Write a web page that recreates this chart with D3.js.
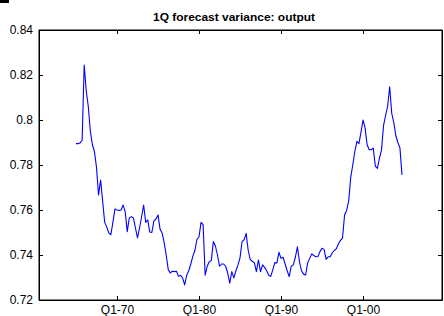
<!DOCTYPE html>
<html>
<head>
<meta charset="utf-8">
<script src="https://cdn.jsdelivr.net/npm/d3@7"></script>
<style>
  html, body { margin: 0; padding: 0; background: #fff; }
  svg { display: block; }
  text { font-family: "Liberation Sans", Arial, sans-serif; fill: #000; }
</style>
</head>
<body>
<div id="chart"></div>
<script>
// ---- data (quarterly, starting 1965 Q1) ----
const chartTitle = "1Q forecast variance: output";
const startYear = 1965;
const variance = [
  0.7895, 0.7895, 0.7898, 0.7910, 0.8244, 0.8130, 0.8060, 0.7950, 0.7890, 0.7860,
  0.7790, 0.7667, 0.7733, 0.7640, 0.7545, 0.7525, 0.7498, 0.7490, 0.7545, 0.7605,
  0.7600, 0.7598, 0.7600, 0.7622, 0.7593, 0.7504, 0.7565, 0.7570, 0.7565, 0.7520,
  0.7476, 0.7520, 0.7570, 0.7622, 0.7545, 0.7556, 0.7502, 0.7500, 0.7552, 0.7560,
  0.7578, 0.7515, 0.7498, 0.7455, 0.7400, 0.7335, 0.7320, 0.7328, 0.7326, 0.7328,
  0.7305, 0.7310, 0.7298, 0.7267, 0.7310, 0.7330, 0.7360, 0.7395, 0.7420, 0.7470,
  0.7480, 0.7545, 0.7535, 0.7310, 0.7350, 0.7370, 0.7375, 0.7460, 0.7440, 0.7400,
  0.7350, 0.7360, 0.7360, 0.7350, 0.7320, 0.7275, 0.7326, 0.7298, 0.7330, 0.7355,
  0.7387, 0.7460, 0.7467, 0.7496, 0.7420, 0.7380, 0.7372, 0.7365, 0.7326, 0.7378,
  0.7326, 0.7356, 0.7345, 0.7330, 0.7310, 0.7305, 0.7335, 0.7366, 0.7365, 0.7412,
  0.7385, 0.7390, 0.7360, 0.7330, 0.7304, 0.7350, 0.7356, 0.7390, 0.7436, 0.7370,
  0.7330, 0.7315, 0.7311, 0.7365, 0.7385, 0.7405, 0.7398, 0.7392, 0.7393, 0.7415,
  0.7430, 0.7425, 0.7381, 0.7392, 0.7392, 0.7410, 0.7420, 0.7428, 0.7450, 0.7465,
  0.7475, 0.7578, 0.7598, 0.7640, 0.7745, 0.7800, 0.7860, 0.7905, 0.7895, 0.7945,
  0.8000, 0.7965, 0.7890, 0.7868, 0.7868, 0.7875, 0.7795, 0.7785, 0.7830, 0.7865,
  0.7975, 0.8020, 0.8060, 0.8148, 0.8030, 0.7988, 0.7930, 0.7900, 0.7876, 0.7756
];
const xTickYears = [1970, 1980, 1990, 2000];
const xTickLabels = ["Q1-70", "Q1-80", "Q1-90", "Q1-00"];
const yTicks = [0.72, 0.74, 0.76, 0.78, 0.80, 0.82, 0.84];
const yTickLabels = ["0.72", "0.74", "0.76", "0.78", "0.8", "0.82", "0.84"];

// ---- layout ----
const W = 444, H = 316;
const plot = { left: 39, right: 442, top: 30, bottom: 300 };
const tickLen = 4;

const svg = d3.select("#chart").append("svg")
  .attr("width", W).attr("height", H);

const x = d3.scaleLinear().domain([1960.49, 2009.63]).range([plot.left, plot.right]);
const y = d3.scaleLinear().domain([0.72, 0.84]).range([plot.bottom, plot.top]);

// small mark at top-left corner (remnant in reference)
svg.append("rect").attr("x", 0).attr("y", 0).attr("width", 9).attr("height", 3).attr("fill", "#000");

// title
svg.append("text")
  .attr("x", 234).attr("y", 21)
  .attr("text-anchor", "middle")
  .attr("font-size", "11px").attr("font-weight", "bold")
  .attr("textLength", 162).attr("lengthAdjust", "spacingAndGlyphs")
  .text(chartTitle);

// line
const data = variance.map((v, i) => ({ t: startYear + i / 4, v }));
const line = d3.line().x(d => x(d.t)).y(d => y(d.v));
svg.append("path")
  .datum(data)
  .attr("d", line)
  .attr("fill", "none")
  .attr("stroke", "#0000ff")
  .attr("stroke-width", 1.1)
  .attr("stroke-linejoin", "round");

// axes (inward ticks, MATLAB style)
const fmtY = d => yTickLabels[yTicks.indexOf(d)];
const fmtX = d => xTickLabels[xTickYears.indexOf(d)];

const gLeft = svg.append("g").attr("transform", `translate(${plot.left},0)`)
  .call(d3.axisLeft(y).tickValues(yTicks).tickFormat(fmtY).tickSizeInner(-tickLen).tickSizeOuter(0).tickPadding(6));
const gRight = svg.append("g").attr("transform", `translate(${plot.right},0)`)
  .call(d3.axisRight(y).tickValues(yTicks).tickFormat("").tickSizeInner(-tickLen).tickSizeOuter(0));
const gBottom = svg.append("g").attr("transform", `translate(0,${plot.bottom})`)
  .call(d3.axisBottom(x).tickValues(xTickYears).tickFormat(fmtX).tickSizeInner(-tickLen).tickSizeOuter(0).tickPadding(5));
const gTop = svg.append("g").attr("transform", `translate(0,${plot.top})`)
  .call(d3.axisTop(x).tickValues(xTickYears).tickFormat("").tickSizeInner(-tickLen).tickSizeOuter(0));

[gLeft, gRight, gBottom, gTop].forEach(g => {
  g.selectAll("path.domain").attr("stroke", "#000").attr("stroke-width", 1);
  g.selectAll(".tick line").attr("stroke", "#000");
  g.selectAll("text").attr("font-family", "'Liberation Sans', Arial, sans-serif")
    .attr("font-size", "12px").attr("fill", "#000");
});

// box frame
svg.append("rect")
  .attr("x", plot.left).attr("y", plot.top)
  .attr("width", plot.right - plot.left).attr("height", plot.bottom - plot.top)
  .attr("fill", "none").attr("stroke", "#000").attr("stroke-width", 1);
</script>
</body>
</html>
